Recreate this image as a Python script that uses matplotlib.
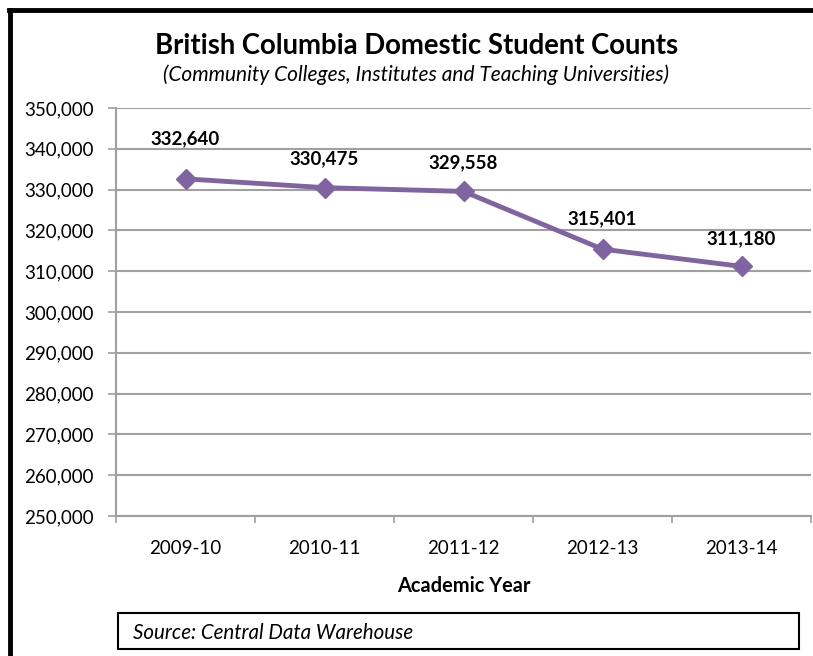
import matplotlib.pyplot as plt
from matplotlib.patches import Rectangle
from matplotlib.lines import Line2D

years = ['2009-10', '2010-11', '2011-12', '2012-13', '2013-14']
counts = [332640, 330475, 329558, 315401, 311180]
label_offsets = [40, 29, 29, 30, 28]

plt.rcParams['font.family'] = ['Lato', 'DejaVu Sans']

W, H = 813, 656
fig = plt.figure(figsize=(W / 100, H / 100), dpi=100)
ax = fig.add_axes([116 / W, 1 - 516 / H, (811 - 116) / W, (516 - 108) / H])

grey = '#a0a0a0'
purple = '#8064a2'
fs = 13.5

x = list(range(len(years)))
ax.plot(x, counts, color=purple, lw=3.5, marker='D', ms=10, zorder=3)
for xi, v, off in zip(x, counts, label_offsets):
    ax.annotate(f'{v:,}', (xi, v), xytext=(0, off), textcoords='offset pixels',
                ha='center', va='center', fontsize=fs, fontweight='bold')

ax.set_xlim(-0.5, 4.5)
ax.set_ylim(250000, 350000)
ax.set_yticks(range(250000, 350001, 10000))
ax.set_yticklabels([f'{t:,}' for t in range(250000, 350001, 10000)])
ax.set_xticks([i - 0.5 for i in range(len(years) + 1)])
ax.set_xticklabels([])
ax.set_xticks(x, minor=True)
ax.set_xticklabels(years, minor=True)
ax.tick_params(axis='x', which='minor', length=0, pad=17, labelsize=fs)
ax.tick_params(axis='x', which='major', length=5, color=grey, width=1.2)
ax.tick_params(axis='y', length=6, color=grey, width=1.2, pad=10, labelsize=fs)
ax.grid(axis='y', color=grey, lw=1.5)
ax.set_axisbelow(True)
for s in ['top', 'right']:
    ax.spines[s].set_visible(False)
for s in ['left', 'bottom']:
    ax.spines[s].set_color(grey)
    ax.spines[s].set_linewidth(1.5)

ax.set_xlabel('Academic Year', fontsize=14.4, fontweight='bold', labelpad=14)

fig.text(417 / W, 1 - 46 / H, 'British Columbia Domestic Student Counts',
         ha='center', va='center', fontsize=19.8, fontweight='bold')
fig.text(416 / W, 1 - 75 / H,
         '(Community Colleges, Institutes and Teaching Universities)',
         ha='center', va='center', fontsize=15, style='italic')

# source box
fig.patches.append(Rectangle((118 / W, 1 - 649 / H), (799 - 118) / W, 36 / H,
                             transform=fig.transFigure, fill=False,
                             edgecolor='black', lw=1.5))
fig.text(133 / W, 1 - 633 / H, 'Source: Central Data Warehouse',
         ha='left', va='center', fontsize=14.8, style='italic')

# outer border (left and top visible)
fig.lines.append(Line2D([10 / W, 10 / W], [0, 1 - 10 / H], transform=fig.transFigure,
                        color='black', lw=3.5))
fig.lines.append(Line2D([8.5 / W, 1], [1 - 10 / H, 1 - 10 / H], transform=fig.transFigure,
                        color='black', lw=3.5))

fig.savefig('out.png', dpi=100)
